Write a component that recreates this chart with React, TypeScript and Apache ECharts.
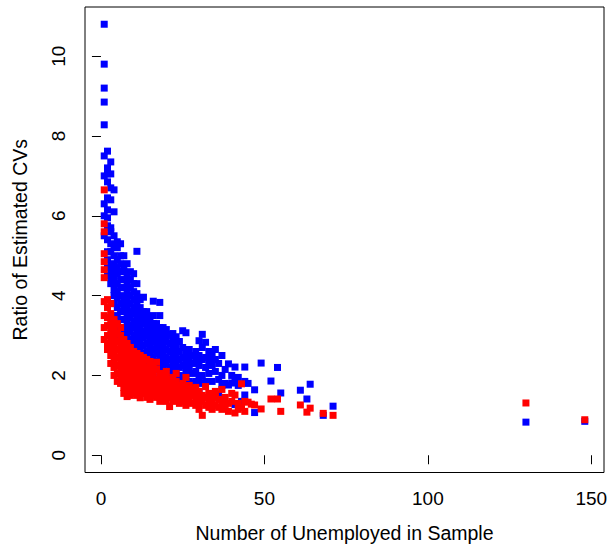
import React, { useEffect, useRef } from "react";
import * as echarts from "echarts";

const xTicks = [0, 50, 100, 150];
const yTicks = [0, 2, 4, 6, 8, 10];
const xTitle = "Number of Unemployed in Sample";
const yTitle = "Ratio of Estimated CVs";

const bluePoints: [number, number][] = [
  [1,10.8],[1,9.8],[1,9.2],[1,8.85],[1,8.28],[1,7.5],[1,7.0],[1,6.3],[1,6.0],[1,5.5],
  [2,7.62],[2,7.2],[2,7.05],[2,6.85],[2,6.45],[2,6.15],[2,5.95],[2,5.75],[2,5.4],[2,5.1],[2,4.9],[2,4.7],[2,4.5],
  [3,7.35],[3,7.05],[3,6.7],[3,6.4],[3,5.7],[3,5.6],[3,5.3],[3,5.1],[3,4.8],[3,4.6],[3,4.45],[3,4.3],
  [4,6.65],[4,6.1],[4,5.5],[4,5.25],[4,5.0],[4,4.75],[4,4.5],[4,4.35],[4,4.15],[4,4.0],[4,3.8],
  [5,5.35],[5,5.2],[5,4.9],[5,4.7],[5,4.55],[5,4.3],[5,4.1],[5,3.95],[5,3.7],[5,3.5],[5,3.3],
  [6,5.3],[6,5.0],[6,4.8],[6,4.6],[6,4.4],[6,4.2],[6,4.0],[6,3.8],[6,3.6],[6,3.4],[6,3.2],[6,3.0],
  [7,5.0],[7,4.75],[7,4.6],[7,4.4],[7,4.2],[7,3.95],[7,3.75],[7,3.6],[7,3.4],[7,3.2],[7,3.05],[7,2.9],
  [8,4.8],[8,4.55],[8,4.3],[8,4.1],[8,3.9],[8,3.7],[8,3.5],[8,3.3],[8,3.15],[8,2.95],[8,2.8],
  [9,4.6],[9,4.4],[9,4.2],[9,4.0],[9,3.8],[9,3.6],[9,3.45],[9,3.25],[9,3.1],[9,2.9],[9,2.7],
  [10,4.55],[10,4.3],[10,4.1],[10,3.9],[10,3.7],[10,3.55],[10,3.35],[10,3.2],[10,3.0],[10,2.85],[10,2.6],
  [11,5.11],[11,4.3],[11,4.05],[11,3.85],[11,3.65],[11,3.45],[11,3.3],[11,3.1],[11,2.9],[11,2.75],[11,2.5],
  [12,3.9],[12,3.7],[12,3.55],[12,3.4],[12,3.2],[12,3.05],[12,2.85],[12,2.65],[12,2.45],
  [13,3.96],[13,3.6],[13,3.45],[13,3.3],[13,3.1],[13,2.95],[13,2.75],[13,2.55],[13,2.35],
  [14,3.6],[14,3.45],[14,3.3],[14,3.15],[14,3.0],[14,2.8],[14,2.6],[14,2.4],[14,2.2],
  [15,3.45],[15,3.3],[15,3.15],[15,3.0],[15,2.85],[15,2.7],[15,2.5],[15,2.3],[15,2.06],
  [16,3.86],[16,3.5],[16,3.3],[16,3.15],[16,3.0],[16,2.85],[16,2.65],[16,2.45],[16,2.25],
  [17,3.3],[17,3.15],[17,3.0],[17,2.85],[17,2.7],[17,2.55],[17,2.35],[17,2.15],
  [18,3.83],[18,3.5],[18,3.2],[18,3.0],[18,2.8],[18,2.6],[18,2.45],[18,2.25],[18,2.05],
  [19,3.2],[19,3.05],[19,2.9],[19,2.7],[19,2.55],[19,2.35],[19,2.15],
  [20,3.15],[20,3.0],[20,2.85],[20,2.65],[20,2.45],[20,2.3],[20,2.1],[20,1.95],
  [21,3.03],[21,2.8],[21,2.6],[21,2.4],[21,2.2],[21,2.0],
  [22,3.05],[22,2.9],[22,2.7],[22,2.5],[22,2.3],[22,2.1],[22,1.95],
  [23,2.97],[23,2.75],[23,2.55],[23,2.35],[23,2.15],[23,1.85],
  [24,2.85],[24,2.6],[24,2.4],[24,2.2],[24,2.0],[24,1.6],
  [25,3.12],[25,2.7],[25,2.45],[25,2.25],[25,1.9],
  [26,3.07],[26,2.55],[26,2.35],[26,2.1],[26,1.95],
  [27,2.65],[27,2.4],[27,2.2],[27,1.85],
  [28,2.5],[28,2.3],[28,2.05],[28,1.8],
  [29,2.6],[29,2.35],[29,2.1],[29,1.85],
  [30,2.87],[30,2.5],[30,2.25],[30,1.95],[30,1.6],
  [31,3.03],[31,2.7],[31,2.4],[31,2.0],[31,1.8],
  [32,2.83],[32,2.45],[32,2.2],[32,1.85],
  [33,2.6],[33,2.35],[33,2.05],
  [34,2.5],[34,2.25],[34,1.85],
  [35,2.65],[35,2.4],[35,2.1],[35,1.54],
  [36,2.3],[36,1.9],[36,1.51],
  [37,2.5],[37,2.0],[37,1.75],
  [38,2.15],[38,1.8],
  [39,2.29],[39,1.76],
  [40,2.0],[40,1.81],
  [41,2.21],[41,1.85],[41,1.27],
  [42,1.95],[42,1.75],
  [43,1.35],
  [44,2.21],[44,1.85],[44,1.51],
  [45,1.8],
  [47,1.64],[47,1.07],
  [49,2.31],[52,1.86],[54,2.2],[55,1.56],[61,1.63],[63,1.41],[64,1.78],[68,1.0],[71,1.23],
  [130,0.83],[148,0.85],
];

const redPoints: [number, number][] = [
  [1,6.65],[1,5.8],[1,5.6],[1,5.05],[1,4.85],[1,4.65],[1,4.45],[1,3.85],[1,3.5],[1,3.2],[1,2.9],
  [2,3.9],[2,3.7],[2,3.45],[2,3.25],[2,3.0],[2,2.8],[2,2.65],
  [3,3.8],[3,3.55],[3,3.3],[3,3.1],[3,2.9],[3,2.7],[3,2.5],[3,2.3],
  [4,3.4],[4,3.2],[4,3.0],[4,2.8],[4,2.6],[4,2.4],[4,2.2],[4,2.0],
  [5,3.3],[5,3.05],[5,2.85],[5,2.65],[5,2.45],[5,2.25],[5,2.05],[5,1.85],
  [6,3.2],[6,3.0],[6,2.85],[6,2.7],[6,2.55],[6,2.4],[6,2.25],[6,2.1],[6,1.95],[6,1.8],
  [7,2.9],[7,2.75],[7,2.6],[7,2.45],[7,2.3],[7,2.15],[7,2.0],[7,1.85],[7,1.7],[7,1.55],
  [8,2.8],[8,2.65],[8,2.5],[8,2.35],[8,2.2],[8,2.05],[8,1.9],[8,1.75],[8,1.6],[8,1.47],
  [9,2.7],[9,2.55],[9,2.4],[9,2.25],[9,2.1],[9,1.95],[9,1.8],[9,1.65],[9,1.5],
  [10,2.6],[10,2.45],[10,2.3],[10,2.15],[10,2.0],[10,1.85],[10,1.7],[10,1.55],
  [11,2.55],[11,2.4],[11,2.25],[11,2.1],[11,1.95],[11,1.8],[11,1.65],[11,1.5],
  [12,2.5],[12,2.35],[12,2.2],[12,2.05],[12,1.9],[12,1.75],[12,1.6],[12,1.44],
  [13,2.45],[13,2.3],[13,2.15],[13,2.0],[13,1.85],[13,1.7],[13,1.55],
  [14,2.4],[14,2.2],[14,2.05],[14,1.9],[14,1.75],[14,1.6],[14,1.45],
  [15,2.35],[15,2.2],[15,2.0],[15,1.85],[15,1.7],[15,1.55],[15,1.4],
  [16,2.25],[16,2.1],[16,1.95],[16,1.8],[16,1.65],[16,1.5],
  [17,2.33],[17,2.15],[17,1.9],[17,1.75],[17,1.6],[17,1.45],
  [18,2.05],[18,1.9],[18,1.75],[18,1.6],[18,1.45],[18,1.35],
  [19,2.0],[19,1.85],[19,1.7],[19,1.55],[19,1.4],
  [20,2.1],[20,1.95],[20,1.8],[20,1.65],[20,1.5],[20,1.35],
  [21,1.9],[21,1.75],[21,1.6],[21,1.45],[21,1.22],
  [22,1.95],[22,1.8],[22,1.65],[22,1.5],[22,1.35],
  [23,2.05],[23,1.85],[23,1.7],[23,1.55],[23,1.4],
  [24,1.75],[24,1.6],[24,1.45],[24,1.3],
  [25,1.8],[25,1.65],[25,1.5],[25,1.35],
  [26,1.95],[26,1.7],[26,1.55],[26,1.4],[26,1.25],
  [27,1.75],[27,1.6],[27,1.45],
  [28,1.65],[28,1.5],[28,1.3],
  [29,1.7],[29,1.55],[29,1.4],[29,1.25],
  [30,1.6],[30,1.45],[30,1.3],[30,1.15],
  [31,1.5],[31,1.35],[31,1.0],
  [32,1.72],[32,1.45],[32,1.25],
  [33,1.55],[33,1.4],[33,1.2],
  [34,1.5],[34,1.3],[34,1.15],
  [35,1.6],[35,1.45],[35,1.25],
  [36,1.4],[36,1.2],
  [37,1.65],[37,1.35],[37,1.15],
  [38,1.45],[38,1.25],
  [39,1.3],[39,1.1],
  [40,1.55],[40,1.35],
  [41,1.51],[41,1.06],
  [42,1.3],[42,1.15],
  [43,1.79],[43,1.2],
  [44,1.35],[44,1.1],
  [45,1.33],[46,1.28],[47,1.26],[49,1.16],[52,1.41],[54,1.41],[55,1.1],
  [61,1.26],[63,1.08],[64,1.18],[68,1.05],[71,1.0],
  [130,1.31],[148,0.89],
];

const FONT = "'Liberation Sans', Arial, Helvetica, sans-serif";

export default function App() {
  const ref = useRef<HTMLDivElement>(null);
  useEffect(() => {
    if (!ref.current) return;
    const chart = echarts.init(ref.current, undefined, { renderer: "svg" });
    chart.setOption({
      animation: false,
      backgroundColor: "#ffffff",
      grid: {
        left: 85,
        right: 5,
        top: 7,
        bottom: 72.5,
        show: true,
        borderColor: "#000000",
        borderWidth: 1,
        backgroundColor: "transparent",
        containLabel: false,
        outerBoundsMode: "none",
      },
      xAxis: {
        type: "value",
        min: -4.88,
        max: 153.88,
        axisLine: { show: false },
        splitLine: { show: false },
        axisTick: {
          show: true,
          customValues: xTicks,
          length: 9,
          lineStyle: { color: "#000000", width: 1 },
        },
        axisLabel: {
          customValues: xTicks,
          fontSize: 19,
          fontFamily: FONT,
          color: "#000000",
          margin: 16,
        },
        name: xTitle,
        nameLocation: "middle",
        nameGap: 50,
        nameTextStyle: { fontSize: 19.5, fontFamily: FONT, color: "#000000" },
      },
      yAxis: {
        type: "value",
        min: -0.432,
        max: 11.232,
        axisLine: { show: false },
        splitLine: { show: false },
        axisTick: {
          show: true,
          customValues: yTicks,
          length: 9,
          lineStyle: { color: "#000000", width: 1 },
        },
        axisLabel: {
          customValues: yTicks,
          rotate: 90,
          fontSize: 19,
          fontFamily: FONT,
          color: "#000000",
          margin: 17,
        },
        name: yTitle,
        nameLocation: "middle",
        nameGap: 55,
        nameRotate: 90,
        nameTextStyle: { fontSize: 19.5, fontFamily: FONT, color: "#000000" },
      },
      series: [
        {
          type: "scatter",
          data: bluePoints,
          symbol: "rect",
          symbolSize: 7,
          itemStyle: { color: "#0000FF", opacity: 1 },
          silent: true,
        },
        {
          type: "scatter",
          data: redPoints,
          symbol: "rect",
          symbolSize: 7,
          itemStyle: { color: "#FF0000", opacity: 1 },
          silent: true,
        },
      ],
    });
    return () => chart.dispose();
  }, []);
  return (
    <div
      ref={ref}
      style={{ position: "fixed", left: 0, top: 0, width: 609, height: 545, background: "#fff" }}
    />
  );
}
